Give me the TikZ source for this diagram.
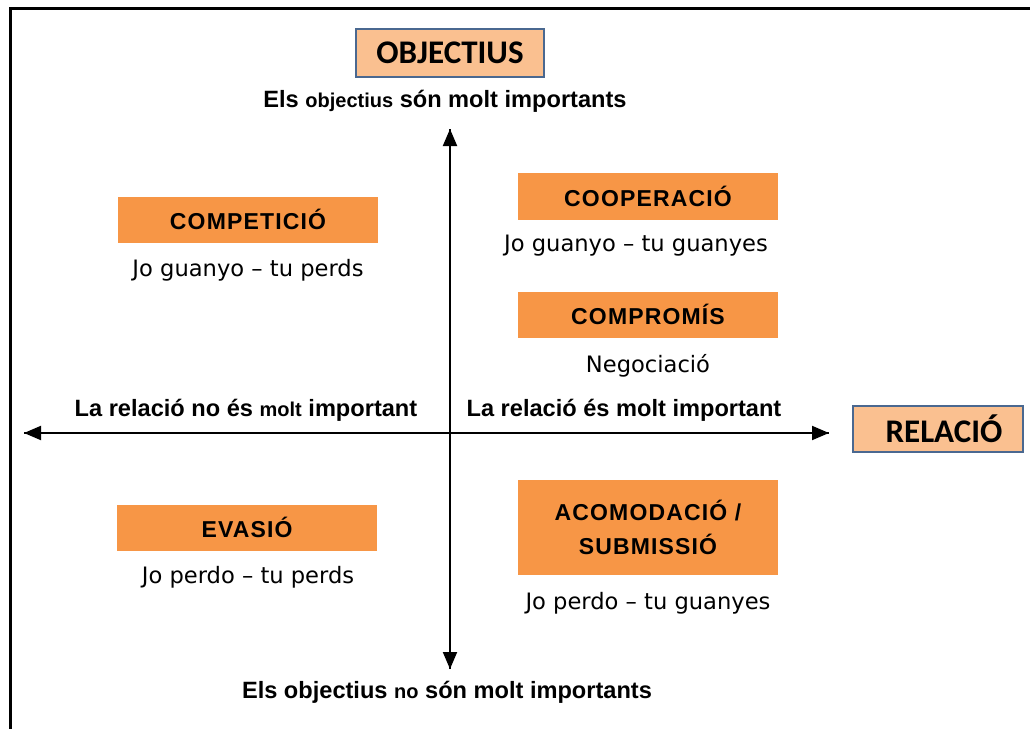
\documentclass[tikz,border=0pt]{standalone}
\usepackage{fontspec}
\setmainfont{Liberation Sans}
\newfontfamily\boxfont{Carlito}
\newfontfamily\stylefont[LetterSpace=5]{Liberation Sans}
\newfontfamily\notefont{DejaVu Sans}
\usetikzlibrary{arrows.meta}
\definecolor{peach}{HTML}{FAC090}
\definecolor{blueedge}{HTML}{4A6890}
\definecolor{orangebox}{HTML}{F79646}

\begin{document}
\begin{tikzpicture}[x=0.5pt, y=-0.5pt,
		axis/.style={line width=1pt, -{Triangle[length=8.5pt,width=7pt]}},
		headbox/.style={fill=peach, draw=blueedge, line width=1.4pt, rectangle, inner sep=0pt, font=\boxfont\bfseries\fontsize{16.5}{19}\selectfont},
		stylebox/.style={fill=orangebox, rectangle, inner sep=0pt, text width=130pt, align=center, font=\stylefont\bfseries\fontsize{11.5}{14}\selectfont},
		note/.style={font=\notefont\fontsize{11.3}{13}\selectfont},
		sidelabel/.style={font=\bfseries\fontsize{11.8}{14}\selectfont}]
	\useasboundingbox (0,0) rectangle (1030,729);
	\draw[line width=1.5pt] (10,740) -- (10,8) -- (1040,8);
	% axes
	\coordinate (top) at (450,129);
	\coordinate (bottom) at (450,669);
	\coordinate (left) at (24,433);
	\coordinate (right) at (829,433);
	\draw[axis] (bottom) -- (top);
	\draw[axis] (top) -- (bottom);
	\draw[axis] (right) -- (left);
	\draw[axis] (left) -- (right);
	% axis titles
	\node [headbox, minimum width=94pt, minimum height=24pt] (objectius) at (450,53) {OBJECTIUS};
	\node [headbox, minimum width=85pt, minimum height=23pt] (relacio) at (938,429) {\hspace*{6pt}RELACIÓ};
	\node [sidelabel] (objhigh) at (445,101) {Els {\fontsize{10}{12}\selectfont objectius} són molt importants};
	\node [sidelabel] (objlow) at (447,692) {Els objectius {\fontsize{10}{12}\selectfont no} són molt importants};
	\node [sidelabel] (rellow) at (246,410) {La relació no és {\fontsize{10}{12}\selectfont molt} important};
	\node [sidelabel] (relhigh) at (624,410) {La relació és molt important};
	% quadrants
	\node [stylebox, minimum height=23pt] (competicio) at (248,219.5) {COMPETICIÓ};
	\node [note] (competicionote) at (248,270) {Jo guanyo – tu perds};
	\node [stylebox, minimum height=23.5pt] (cooperacio) at (648,196.5) {COOPERACIÓ};
	\node [note] (cooperacionote) at (636,246) {Jo guanyo – tu guanyes};
	\node [stylebox, minimum height=23pt] (compromis) at (648,314.5) {COMPROMÍS};
	\node [note] (compromisnote) at (648,366) {Negociació};
	\node [stylebox, minimum height=23pt] (evasio) at (247,527.5) {EVASIÓ};
	\node [note] (evasionote) at (248,577) {Jo perdo – tu perds};
	\node [stylebox, minimum height=47.5pt] (acomodacio) at (648,527.5) {ACOMODACIÓ /\\[3pt]SUBMISSIÓ};
	\node [note] (acomodacionote) at (648,603) {Jo perdo – tu guanyes};
\end{tikzpicture}
\end{document}
